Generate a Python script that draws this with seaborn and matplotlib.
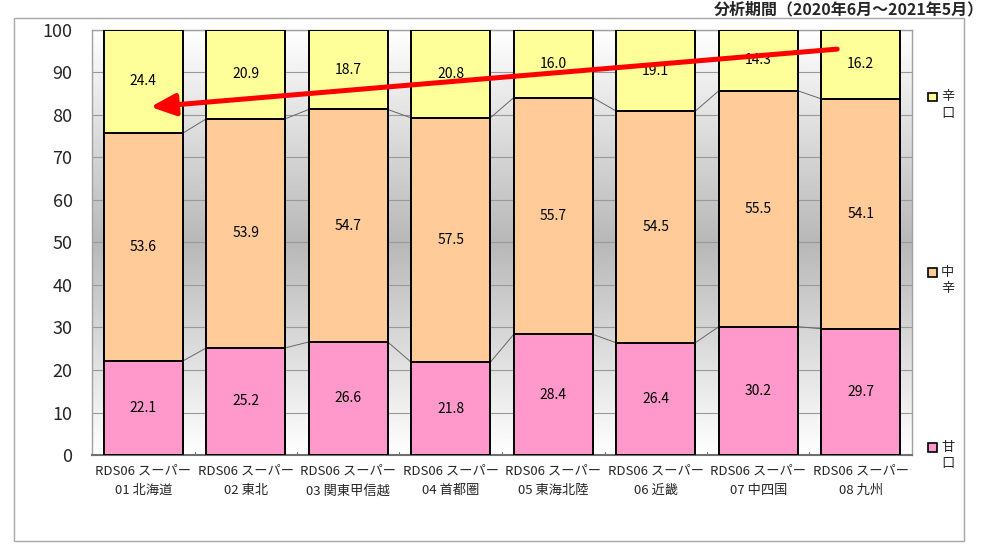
import numpy as np
import pandas as pd
import matplotlib
matplotlib.use("Agg")
import matplotlib.pyplot as plt
from matplotlib.patches import Rectangle
import seaborn as sns

categories = ["RDS06 スーパー\n01 北海道", "RDS06 スーパー\n02 東北", "RDS06 スーパー\n03 関東甲信越",
              "RDS06 スーパー\n04 首都圏", "RDS06 スーパー\n05 東海北陸", "RDS06 スーパー\n06 近畿",
              "RDS06 スーパー\n07 中四国", "RDS06 スーパー\n08 九州"]
amakuchi = [22.1, 25.2, 26.6, 21.8, 28.4, 26.4, 30.2, 29.7]
chukara = [53.6, 53.9, 54.7, 57.5, 55.7, 54.5, 55.5, 54.1]
karakuchi = [24.4, 20.9, 18.7, 20.8, 16.0, 19.1, 14.3, 16.2]
series_names = ["辛口", "中辛", "甘口"]
colors = {"甘口": "#FF99CC", "中辛": "#FFCC99", "辛口": "#FFFF99"}
yticks = [0, 10, 20, 30, 40, 50, 60, 70, 80, 90, 100]
title = "分析期間（2020年6月～2021年5月）"
arrow_start = (6.77, 95.5)
arrow_end = (0.07, 81.9)

sns.set_theme(style="white")
plt.rcParams["font.family"] = ["Noto Sans CJK JP", "DejaVu Sans"]

df = pd.DataFrame({"cat": categories, "甘口": amakuchi, "中辛": chukara, "辛口": karakuchi})
df["c1"] = df["甘口"]
df["c2"] = df["甘口"] + df["中辛"]
df["c3"] = df["c2"] + df["辛口"]

fig = plt.figure(figsize=(10, 5.48), dpi=100)
ax = fig.add_axes([0.092, 0.1697, 0.820, 0.7756])

# background gradient (white - gray - white)
t = np.linspace(0, 1, 256)
g = 1 - 0.28 * (1 - np.abs(2 * t - 1))
ax.imshow(g.reshape(-1, 1), extent=[0, 1, 0, 1], transform=ax.transAxes, aspect="auto",
          cmap="gray", vmin=0, vmax=1, zorder=0, interpolation="bilinear")

bw = 0.77
common = dict(order=categories, width=bw, edgecolor="black", linewidth=1.4, ax=ax, zorder=3)
sns.barplot(data=df, x="cat", y="c3", color=colors["辛口"], saturation=1, **common)
sns.barplot(data=df, x="cat", y="c2", color=colors["中辛"], saturation=1, **common)
sns.barplot(data=df, x="cat", y="c1", color=colors["甘口"], saturation=1, **common)

# series lines
for col in ["c1", "c2"]:
    vals = df[col].values
    for i in range(len(vals) - 1):
        ax.plot([i + bw / 2, i + 1 - bw / 2], [vals[i], vals[i + 1]], color="#666666", lw=0.7, zorder=2)

# value labels
for i in range(len(df)):
    segs = [(0, df["甘口"][i]), (df["c1"][i], df["中辛"][i]), (df["c2"][i], df["辛口"][i])]
    for base, h in segs:
        ax.text(i, base + h / 2, f"{h:.1f}", ha="center", va="center", fontsize=10, color="black", zorder=5)

ax.set_xlim(-0.5, len(categories) - 0.5)
ax.set_ylim(0, 100)
ax.set_yticks(yticks)
ax.set_yticklabels([str(v) for v in yticks], fontsize=13)
ax.tick_params(axis="y", length=0, pad=14)
ax.tick_params(axis="x", labelsize=9.5, length=0, pad=7)
for lab in ax.get_xticklabels():
    lab.set_linespacing(1.65)
ax.set_xlabel("")
ax.set_ylabel("")
ax.yaxis.grid(True, color="#999999", lw=0.8, zorder=1)
ax.set_axisbelow(True)
for s in ["top", "right", "left"]:
    ax.spines[s].set_color("#a0a0a0")
    ax.spines[s].set_linewidth(1)
ax.spines["bottom"].set_color("#707070")
ax.spines["bottom"].set_linewidth(1.5)
for xb in np.arange(0.5, len(categories) - 0.5, 1):
    ax.plot([xb, xb], [0, 0.8], color="#707070", lw=0.8, zorder=2)

ax.annotate("", xy=arrow_end, xytext=arrow_start,
            arrowprops=dict(arrowstyle="-|>,head_length=0.5,head_width=0.22", color="#FF0000",
                            lw=3.6, mutation_scale=30, shrinkA=0, shrinkB=0), zorder=6)

# legend (manual)
leg_y = {"辛口": 0.823, "中辛": 0.503, "甘口": 0.184}
for name in series_names:
    y = leg_y[name]
    fig.patches.append(Rectangle((0.928, y - 0.008), 0.009, 0.016, transform=fig.transFigure,
                                 facecolor=colors[name], edgecolor="black", lw=1.2))
    fig.text(0.941, y, name[0], ha="left", va="center", fontsize=9.5)
    fig.text(0.941, y - 0.03, name[1], ha="left", va="center", fontsize=9.5)

fig.text(0.984, 0.982, title, ha="right", va="center", fontsize=11.5, fontweight="bold")
fig.patches.append(Rectangle((0.014, 0.013), 0.950, 0.954, transform=fig.transFigure,
                             facecolor="none", edgecolor="#a8a8a8", lw=1))

fig.savefig("out.png", dpi=100)
